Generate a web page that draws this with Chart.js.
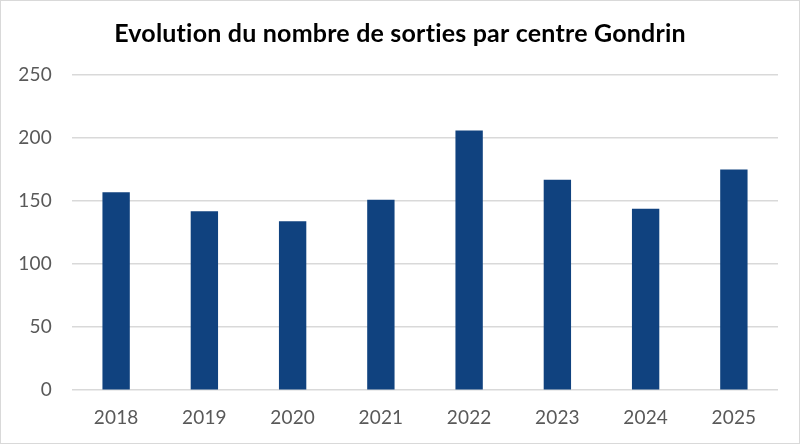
<!DOCTYPE html>
<html>
<head>
<meta charset="utf-8">
<script src="https://cdn.jsdelivr.net/npm/chart.js@4/dist/chart.umd.min.js"></script>
<style>
  html, body { margin: 0; padding: 0; background: #fff; }
  #wrap { width: 798px; height: 442px; border: 1px solid #d9d9d9; }
</style>
</head>
<body>
<div id="wrap"><canvas id="chart" width="798" height="442"></canvas></div>
<script>
const years = ['2018', '2019', '2020', '2021', '2022', '2023', '2024', '2025']
const sorties = [157, 142, 134, 151, 206, 167, 144, 175]
const yTicks = [0, 50, 100, 150, 200, 250]

// petite marge entre lettres pour eviter la ligature "ti" de Lato,
// et titre centre sur toute la largeur du cadre
const titleFixPlugin = {
  id: 'titleFix',
  afterLayout: (chart) => {
    chart.titleBlock.left = 0
    chart.titleBlock.right = chart.width
  },
  beforeDraw: (chart) => {
    chart.ctx.letterSpacing = '0.2px'
  }
}

new Chart(document.getElementById('chart'), {
  type: 'bar',
  data: {
    labels: years,
    datasets: [{
      label: 'Sorties',
      data: sorties,
      backgroundColor: '#10427f',
      borderWidth: 0,
      barPercentage: 0.31,
      categoryPercentage: 1
    }]
  },
  options: {
    responsive: false,
    animation: false,
    layout: {
      padding: { left: 14, right: 21, top: 6, bottom: 6 }
    },
    plugins: {
      legend: { display: false },
      tooltip: { enabled: false },
      title: {
        display: true,
        text: 'Evolution du nombre de sorties par centre Gondrin',
        color: '#000',
        font: { size: 25, weight: 'bold', family: 'Lato, "Open Sans", sans-serif' },
        padding: { top: 12, bottom: 26 }
      }
    },
    scales: {
      x: {
        grid: { display: false },
        border: { display: false },
        ticks: {
          color: '#595959',
          font: { size: 19, family: 'Lato, "Open Sans", sans-serif' },
          padding: 8
        }
      },
      y: {
        min: yTicks[0],
        max: yTicks[yTicks.length - 1],
        afterBuildTicks: (axis) => {
          axis.ticks = yTicks.map(v => ({ value: v }))
        },
        afterFit: (axis) => {
          axis.width = 57
        },
        grid: { color: '#d9d9d9', lineWidth: 1.5, drawTicks: false },
        border: { display: false },
        ticks: {
          color: '#595959',
          font: { size: 19, family: 'Lato, "Open Sans", sans-serif' },
          padding: 20
        }
      }
    }
  },
  plugins: [titleFixPlugin]
})
</script>
</body>
</html>
